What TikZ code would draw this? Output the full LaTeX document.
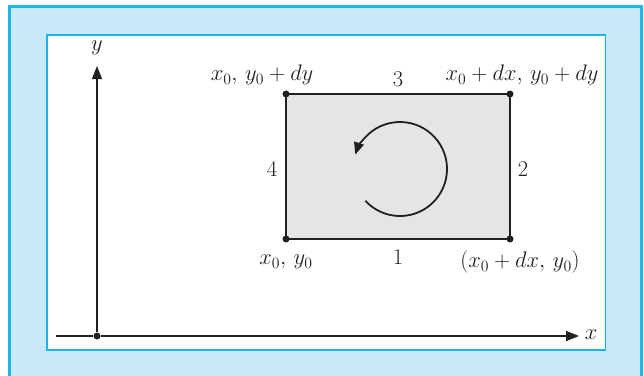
\documentclass[tikz,border=0pt]{standalone}
\usepackage{fix-cm}
\usetikzlibrary{arrows.meta}
\definecolor{bgblue}{HTML}{C7E9F8}
\definecolor{edgeblue}{HTML}{1FB3EC}
\definecolor{boxgray}{HTML}{E4E5E7}
\definecolor{ink}{HTML}{231F20}
\begin{document}
\begin{tikzpicture}[x=1pt,y=-1pt,
  axis/.style={draw=ink,line width=1.4pt,-{Triangle[length=13pt,width=10pt]}},
  edge/.style={draw=ink,line width=2.4pt},
  dot/.style={circle,fill=ink,inner sep=0pt,minimum size=7pt},
  lbl/.style={text=ink,inner sep=0pt,font=\fontsize{22.5}{27}\selectfont}]
\useasboundingbox (0,0) rectangle (644,375);
\clip (0,0) rectangle (644,375);
\fill[bgblue,draw=edgeblue,line width=2.6pt] (9.5,6.5) rectangle (641.5,390);
\fill[white,draw=edgeblue,line width=1.6pt] (46.8,35) rectangle (605.5,350);
% axes
\node[dot] (O) at (97,336) {};
\coordinate (xs) at (56,336);
\coordinate (xe) at (579,336);
\coordinate (ye) at (97,66);
\draw[draw=ink,line width=1.4pt] (xs) -- (O);
\draw[axis] (O) -- (xe);
\draw[axis] (O) -- (ye);
\node[lbl] (xl) at (591,335) {$x$};
\node[lbl] (yl) at (97,48) {$y$};
% rectangle
\fill[boxgray] (286,239) rectangle (510,94);
\node[dot] (A) at (286,239) {};
\node[dot] (B) at (510,239) {};
\node[dot] (C) at (510,94) {};
\node[dot] (D) at (286,94) {};
\draw[edge] (A.center) -- (B.center) -- (C.center) -- (D.center) -- cycle;
% circulation arrow
\coordinate (ctr) at (400,169);
\draw[draw=ink,line width=1.8pt,-{Triangle[length=12pt,width=10pt]}]
  ([shift={(137.5:47)}]ctr) arc[start angle=137.5,end angle=-162,radius=47];
% labels
\node[lbl] (lD) at (262,75) {$x_0,\,y_0+dy$};
\node[lbl] (lC) at (522,75) {$x_0+dx,\,y_0+dy$};
\node[lbl] (lA) at (286,262) {$x_0,\,y_0$};
\node[lbl] (lB) at (520,262) {$(x_0+dx,\,y_0)$};
\node[lbl] (e1) at (398,257) {1};
\node[lbl] (e2) at (523,169) {2};
\node[lbl] (e3) at (398,79) {3};
\node[lbl] (e4) at (272,169) {4};
\end{tikzpicture}
\end{document}
